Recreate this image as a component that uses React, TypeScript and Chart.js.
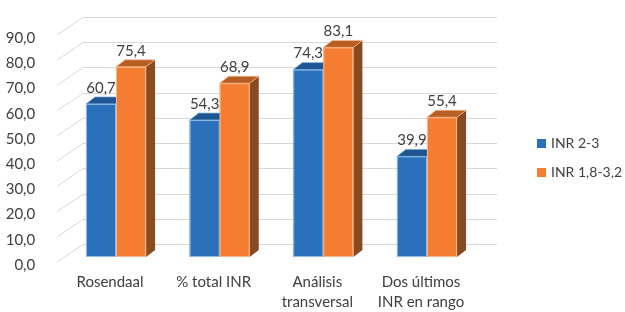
import { useEffect, useRef } from 'react';
import { Chart, registerables } from 'chart.js';

Chart.register(...registerables);

const categories: string[][] = [
  ['Rosendaal'],
  ['% total INR'],
  ['Análisis', 'transversal'],
  ['Dos últimos', 'INR en rango'],
];
const seriesNames = ['INR 2-3', 'INR 1,8-3,2'];
const inr23 = [60.7, 54.3, 74.3, 39.9];
const inr1832 = [75.4, 68.9, 83.1, 55.4];
const yMin = 0;
const yMax = 90;
const yStep = 10;

const FONT = 'Lato, "Open Sans", sans-serif';
const TEXT = '#404040';
const GRID = '#d9d9d9';

const palette = [
  { front: '#2a70ba', top: '#1d5693', side: '#173f6e', edge: '#8fbbe6' },
  { front: '#f47d32', top: '#b95e22', side: '#8a4a1f', edge: '#f9b98c' },
];

const DX = 9;
const DY = -7;

const fmt = (v: number) => v.toFixed(1).replace('.', ',');

const wallPlugin = {
  id: 'wall3d',
  beforeDatasetsDraw(chart: any) {
    const ctx = chart.ctx;
    const y = chart.scales.y;
    const frontX = 57;
    const backX = 83;
    const backRight = 497;
    ctx.save();
    ctx.strokeStyle = GRID;
    ctx.lineWidth = 1;
    for (let v = yMin; v <= yMax; v += yStep) {
      const p = y.getPixelForValue(v);
      const yb = Math.round(p - 13) + 0.5;
      ctx.beginPath();
      ctx.moveTo(frontX, p + 5);
      ctx.lineTo(backX, yb);
      ctx.lineTo(backRight, yb);
      ctx.stroke();
    }
    ctx.restore();
  },
};

const barsPlugin = {
  id: 'bars3d',
  afterDatasetsDraw(chart: any) {
    const ctx = chart.ctx;
    const n = chart.data.labels.length;
    ctx.save();
    for (let j = 0; j < n; j++) {
      for (let i = 0; i < chart.data.datasets.length; i++) {
        const el = chart.getDatasetMeta(i).data[j];
        const c = palette[i];
        const x0 = el.x - el.width / 2;
        const x1 = el.x + el.width / 2;
        const top = el.y;
        const base = el.base;
        // side
        ctx.fillStyle = c.side;
        ctx.beginPath();
        ctx.moveTo(x1, top);
        ctx.lineTo(x1 + DX, top + DY);
        ctx.lineTo(x1 + DX, base + DY);
        ctx.lineTo(x1, base);
        ctx.closePath();
        ctx.fill();
        // top
        ctx.fillStyle = c.top;
        ctx.strokeStyle = c.edge;
        ctx.lineWidth = 0.75;
        ctx.beginPath();
        ctx.moveTo(x0, top);
        ctx.lineTo(x0 + DX, top + DY);
        ctx.lineTo(x1 + DX, top + DY);
        ctx.lineTo(x1, top);
        ctx.closePath();
        ctx.fill();
        ctx.stroke();
        // front
        ctx.fillStyle = c.front;
        ctx.fillRect(x0, top, x1 - x0, base - top);
        ctx.lineWidth = 1;
        ctx.strokeRect(x0 + 0.5, top + 0.5, x1 - x0 - 1, base - top - 1);
      }
    }
    // labels
    ctx.fillStyle = TEXT;
    ctx.font = '15px ' + FONT;
    ctx.textAlign = 'center';
    ctx.textBaseline = 'middle';
    for (let i = 0; i < chart.data.datasets.length; i++) {
      const meta = chart.getDatasetMeta(i);
      meta.data.forEach((el: any, j: number) => {
        ctx.fillText(fmt(chart.data.datasets[i].data[j]), el.x, el.y - 16);
      });
    }
    ctx.restore();
  },
  afterDraw(chart: any) {
    const ctx = chart.ctx;
    ctx.save();
    ctx.font = '14px ' + FONT;
    ctx.textAlign = 'left';
    ctx.textBaseline = 'middle';
    chart.data.datasets.forEach((ds: any, i: number) => {
      const cy = 143.5 + i * 29;
      ctx.fillStyle = palette[i].front;
      ctx.fillRect(537, cy - 4.5, 9, 9);
      ctx.fillStyle = TEXT;
      ctx.fillText(ds.label, 551, cy);
    });
    ctx.restore();
  },
};

export default function App() {
  const ref = useRef<HTMLCanvasElement>(null);
  useEffect(() => {
    document.body.style.margin = '0';
    const chart = new Chart(ref.current!, {
      type: 'bar',
      data: {
        labels: categories,
        datasets: [
          { label: seriesNames[0], data: inr23, backgroundColor: 'rgba(0,0,0,0)' },
          { label: seriesNames[1], data: inr1832, backgroundColor: 'rgba(0,0,0,0)' },
        ],
      },
      options: {
        responsive: false,
        animation: false,
        layout: { padding: { left: 0, top: 26.6, right: 146.2, bottom: 0 } },
        plugins: { legend: { display: false }, tooltip: { enabled: false } },
        datasets: { bar: { categoryPercentage: 0.58, barPercentage: 1.0 } },
        scales: {
          y: {
            min: yMin,
            max: yMax,
            ticks: {
              stepSize: yStep,
              callback: (v: any) => fmt(Number(v)),
              padding: 21,
              labelOffset: 8,
              color: TEXT,
              font: { family: FONT, size: 15 },
            },
            grid: { display: false },
            border: { display: false },
            afterFit: (s: any) => { s.width = 64.2; },
          },
          x: {
            ticks: {
              padding: 7,
              labelOffset: -6,
              maxRotation: 0,
              autoSkip: false,
              color: TEXT,
              font: { family: FONT, size: 15, lineHeight: 1.33 },
            },
            grid: { display: false },
            border: { display: false },
            afterFit: (s: any) => { s.height = 55; },
          },
        },
      } as any,
      plugins: [wallPlugin, barsPlugin],
    });
    return () => chart.destroy();
  }, []);
  return (
    <div style={{ width: 625, height: 312 }}>
      <canvas ref={ref} width={625} height={312} />
    </div>
  );
}
